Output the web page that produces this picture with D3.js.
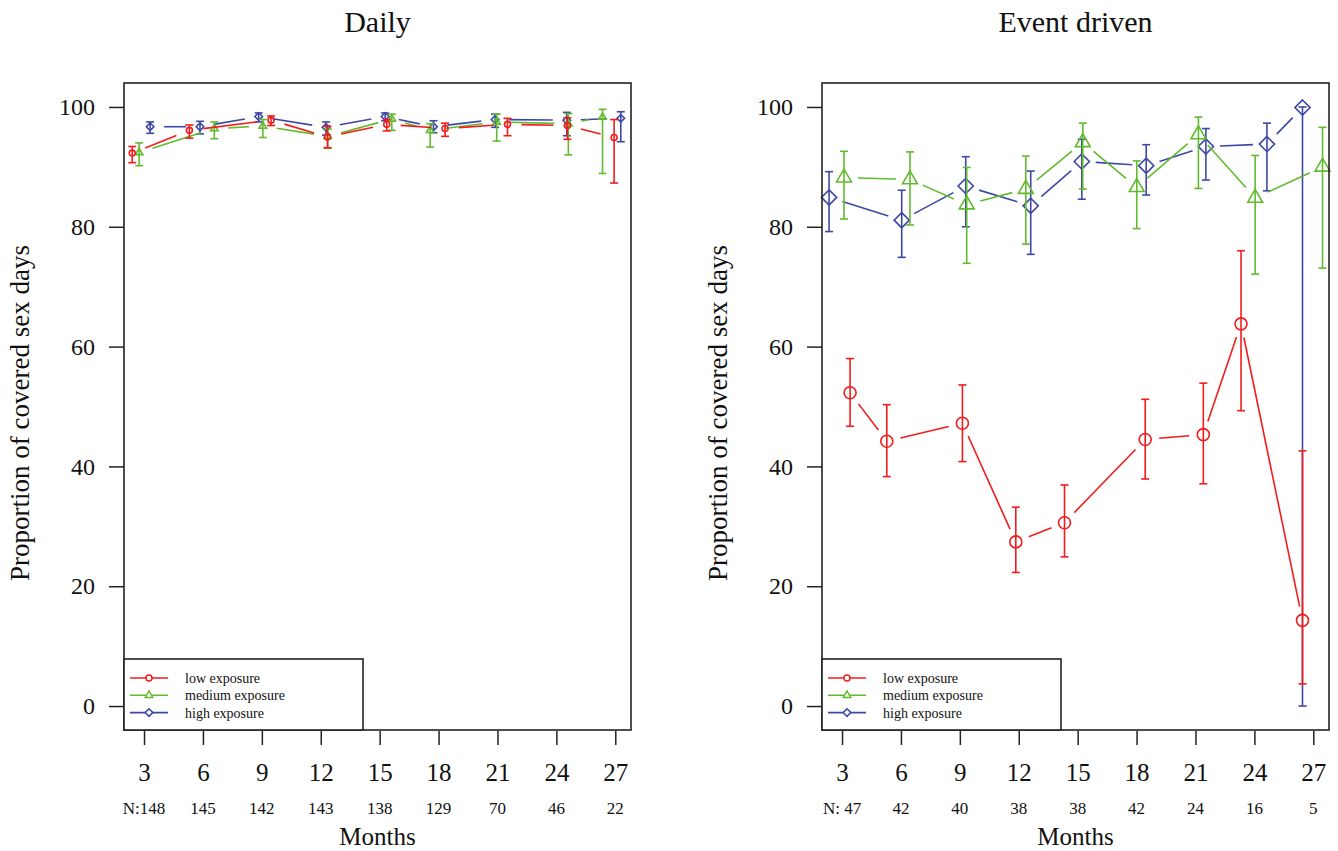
<!DOCTYPE html>
<html>
<head>
<meta charset="utf-8">
<script src="https://cdn.jsdelivr.net/npm/d3@7"></script>
<style>
  html, body { margin: 0; padding: 0; background: #fff; }
  svg { display: block; font-family: "Liberation Serif", "Times New Roman", serif; }
</style>
</head>
<body>
<svg id="chart" width="1338" height="851"></svg>
<script>
// ---------- data ----------
const months = [3, 6, 9, 12, 15, 18, 21, 24, 27];
const nDaily = [148, 145, 142, 143, 138, 129, 70, 46, 22];
const nEvent = [47, 42, 40, 38, 38, 42, 24, 16, 5];
const yTicks = [0, 20, 40, 60, 80, 100];
const seriesNames = ["low exposure", "medium exposure", "high exposure"];

// Daily (jittered month positions, estimates, lower and upper bounds)
const lowDailyX   = [2.40, 5.31, 9.47, 12.34, 15.36, 18.33, 21.51, 24.56, 26.94];
const lowDaily    = [92.3, 96.1, 97.8, 95.0, 97.1, 96.4, 97.1, 96.9, 94.9];
const lowDailyLo  = [90.7, 94.8, 96.9, 93.2, 96.0, 95.1, 95.2, 94.6, 87.3];
const lowDailyHi  = [93.4, 97.0, 98.5, 96.8, 97.9, 97.3, 98.1, 98.2, 97.9];

const medDailyX   = [2.75, 6.58, 9.05, 12.36, 15.62, 17.57, 20.96, 24.61, 26.35];
const medDaily    = [92.4, 96.4, 96.8, 95.1, 98.0, 96.1, 97.5, 97.2, 98.3];
const medDailyLo  = [90.2, 94.7, 94.9, 93.1, 96.1, 93.3, 94.3, 92.0, 88.9];
const medDailyHi  = [94.0, 97.5, 97.9, 96.3, 98.8, 97.2, 98.8, 98.9, 99.6];

const highDailyX  = [3.31, 5.85, 8.84, 12.27, 15.28, 17.74, 20.88, 24.53, 27.28];
const highDaily   = [96.7, 96.7, 98.4, 96.6, 98.4, 96.7, 97.9, 97.8, 98.1];
const highDailyLo = [95.6, 95.5, 97.5, 95.3, 97.7, 95.7, 96.6, 95.2, 94.2];
const highDailyHi = [97.5, 97.6, 99.0, 97.5, 99.0, 97.7, 98.8, 99.1, 99.2];

// Event driven
const lowEventX   = [3.41, 5.28, 9.13, 11.85, 14.33, 18.44, 21.40, 23.32, 26.45];
const lowEvent    = [52.3, 44.2, 47.2, 27.4, 30.6, 44.5, 45.3, 63.8, 14.3];
const lowEventLo  = [46.7, 38.3, 40.8, 22.3, 24.9, 37.9, 37.1, 49.3, 3.7];
const lowEventHi  = [58.0, 50.3, 53.6, 33.2, 36.9, 51.2, 53.9, 76.0, 42.6];

const medEventX   = [3.10, 6.46, 9.35, 12.36, 15.26, 18.01, 21.15, 24.04, 27.47];
const medEvent    = [88.2, 87.9, 83.7, 86.3, 94.1, 86.6, 95.4, 84.8, 90.0];
const medEventLo  = [81.3, 80.3, 73.9, 77.1, 86.3, 79.7, 86.4, 72.1, 73.1];
const medEventHi  = [92.6, 92.5, 89.9, 91.8, 97.3, 91.0, 98.3, 91.9, 96.6];

const highEventX  = [2.34, 6.04, 9.30, 12.61, 15.21, 18.49, 21.53, 24.64, 26.45];
const highEvent   = [84.9, 81.1, 86.8, 83.5, 90.9, 90.2, 93.4, 93.8, 99.9];
const highEventLo = [79.2, 74.9, 80.0, 75.4, 84.6, 85.3, 87.8, 86.0, 0.0];
const highEventHi = [89.2, 86.1, 91.7, 89.3, 94.6, 93.7, 96.4, 97.3, 100.0];

// ---------- styling ----------
const colors = ["#f21c1c", "#62bb2e", "#3d48a6"];
const shapes = ["circle", "triangle", "diamond"];

const panels = [
  { title: "Daily", left: 124, n: nDaily, nPrefix: "N:", markerScale: 0.5,
    series: [
      { x: lowDailyX, y: lowDaily, lo: lowDailyLo, hi: lowDailyHi },
      { x: medDailyX, y: medDaily, lo: medDailyLo, hi: medDailyHi },
      { x: highDailyX, y: highDaily, lo: highDailyLo, hi: highDailyHi }
    ] },
  { title: "Event driven", left: 822, n: nEvent, nPrefix: "N: ", markerScale: 1.0,
    series: [
      { x: lowEventX, y: lowEvent, lo: lowEventLo, hi: lowEventHi },
      { x: medEventX, y: medEvent, lo: medEventLo, hi: medEventHi },
      { x: highEventX, y: highEvent, lo: highEventLo, hi: highEventHi }
    ] }
];

const svg = d3.select("#chart");
const plotTop = 83, plotBottom = 730, plotWidth = 507;
const fontFam = '"Liberation Serif", "Times New Roman", serif';

function markerPath(shape, s) {
  if (shape === "circle") {
    const r = 6 * s;
    return `M${-r},0A${r},${r} 0 1,0 ${r},0A${r},${r} 0 1,0 ${-r},0Z`;
  }
  if (shape === "triangle") {
    const r = 8.6 * s;
    const h = r * Math.cos(Math.PI / 6);
    return `M0,${-r}L${h},${r / 2}L${-h},${r / 2}Z`;
  }
  const d = 7.6 * s;
  return `M0,${-d}L${d},0L0,${d}L${-d},0Z`;
}

panels.forEach(p => {
  const x = d3.scaleLinear().domain([1.98, 27.8]).range([p.left, p.left + plotWidth]);
  const y = d3.scaleLinear().domain([-4, 104]).range([plotBottom, plotTop]);
  const g = svg.append("g");

  g.append("text")
    .attr("x", p.left + plotWidth / 2).attr("y", 32)
    .attr("text-anchor", "middle").attr("font-size", 30)
    .attr("fill", "#111").text(p.title);

  const yAxis = d3.axisLeft(y).tickValues(yTicks).tickSize(15).tickPadding(14).tickFormat(d3.format("d"));
  const ya = g.append("g").attr("transform", `translate(${p.left},0)`).call(yAxis);
  ya.select(".domain").remove();
  ya.selectAll("line").attr("stroke", "#222").attr("stroke-width", 1.5);
  ya.selectAll("text").attr("font-size", 24).attr("font-family", fontFam).attr("fill", "#111");

  g.append("text")
    .attr("transform", `translate(${p.left - 104},${413}) rotate(-90)`)
    .attr("text-anchor", "middle").attr("dy", "0.35em")
    .attr("font-size", 27).attr("fill", "#111")
    .text("Proportion of covered sex days");

  const xAxis = d3.axisBottom(x).tickValues(months).tickSize(14).tickPadding(18).tickFormat(d3.format("d"));
  const xa = g.append("g").attr("transform", `translate(0,${plotBottom + 1})`).call(xAxis);
  xa.select(".domain").remove();
  xa.selectAll("line").attr("stroke", "#222").attr("stroke-width", 1.5);
  xa.selectAll("text").attr("font-size", 25).attr("font-family", fontFam).attr("fill", "#111");

  g.selectAll("text.nlab").data(months).enter().append("text")
    .attr("class", "nlab")
    .attr("x", d => x(d)).attr("y", 814)
    .attr("text-anchor", "middle").attr("font-size", 17).attr("fill", "#111")
    .text((d, i) => i === 0 ? p.nPrefix + p.n[i] : p.n[i]);

  g.append("text")
    .attr("x", p.left + plotWidth / 2).attr("y", 845)
    .attr("text-anchor", "middle").attr("font-size", 25).attr("fill", "#111")
    .text("Months");

  const gap = 14;
  const cap = 4;
  const order = [2, 1, 0];
  order.forEach(si => {
    const s = p.series[si];
    const col = colors[si];
    const sg = g.append("g");
    const pts = s.x.map((xv, i) => ({ px: x(xv), py: y(s.y[i]), lo: y(s.lo[i]), hi: y(s.hi[i]) }));

    pts.forEach(d => {
      sg.append("line").attr("x1", d.px).attr("x2", d.px).attr("y1", d.lo).attr("y2", d.hi)
        .attr("stroke", col).attr("stroke-width", 1.6);
      [d.lo, d.hi].forEach(yy => {
        sg.append("line").attr("x1", d.px - cap).attr("x2", d.px + cap).attr("y1", yy).attr("y2", yy)
          .attr("stroke", col).attr("stroke-width", 1.6);
      });
    });

    for (let i = 0; i < pts.length - 1; i++) {
      const a = pts[i], b = pts[i + 1];
      const dx = b.px - a.px, dy = b.py - a.py;
      const dist = Math.hypot(dx, dy);
      if (dist <= 2 * gap) continue;
      const ux = dx / dist, uy = dy / dist;
      sg.append("line")
        .attr("x1", a.px + ux * gap).attr("y1", a.py + uy * gap)
        .attr("x2", b.px - ux * gap).attr("y2", b.py - uy * gap)
        .attr("stroke", col).attr("stroke-width", 1.6);
    }

    sg.selectAll("path.m").data(pts).enter().append("path")
      .attr("class", "m")
      .attr("transform", d => `translate(${d.px},${d.py})`)
      .attr("d", markerPath(shapes[si], p.markerScale))
      .attr("fill", "none").attr("stroke", col).attr("stroke-width", 1.6);
  });

  g.append("rect").attr("x", p.left).attr("y", plotTop).attr("width", plotWidth).attr("height", plotBottom - plotTop)
    .attr("fill", "none").attr("stroke", "#222").attr("stroke-width", 1.6);

  const lg = g.append("g");
  lg.append("rect").attr("x", p.left).attr("y", 659).attr("width", 239).attr("height", plotBottom - 659)
    .attr("fill", "#fff").attr("stroke", "#222").attr("stroke-width", 1.6);
  seriesNames.forEach((name, i) => {
    const yy = 678 + i * 17.3;
    lg.append("line").attr("x1", p.left + 6).attr("x2", p.left + 44).attr("y1", yy).attr("y2", yy)
      .attr("stroke", colors[i]).attr("stroke-width", 1.6);
    lg.append("path").attr("transform", `translate(${p.left + 25},${yy})`)
      .attr("d", markerPath(shapes[i], 0.5))
      .attr("fill", "#fff").attr("stroke", colors[i]).attr("stroke-width", 1.5);
    lg.append("text").attr("x", p.left + 61).attr("y", yy).attr("dy", "0.35em")
      .attr("font-size", 14).attr("fill", "#111").text(name);
  });
});
</script>
</body>
</html>
